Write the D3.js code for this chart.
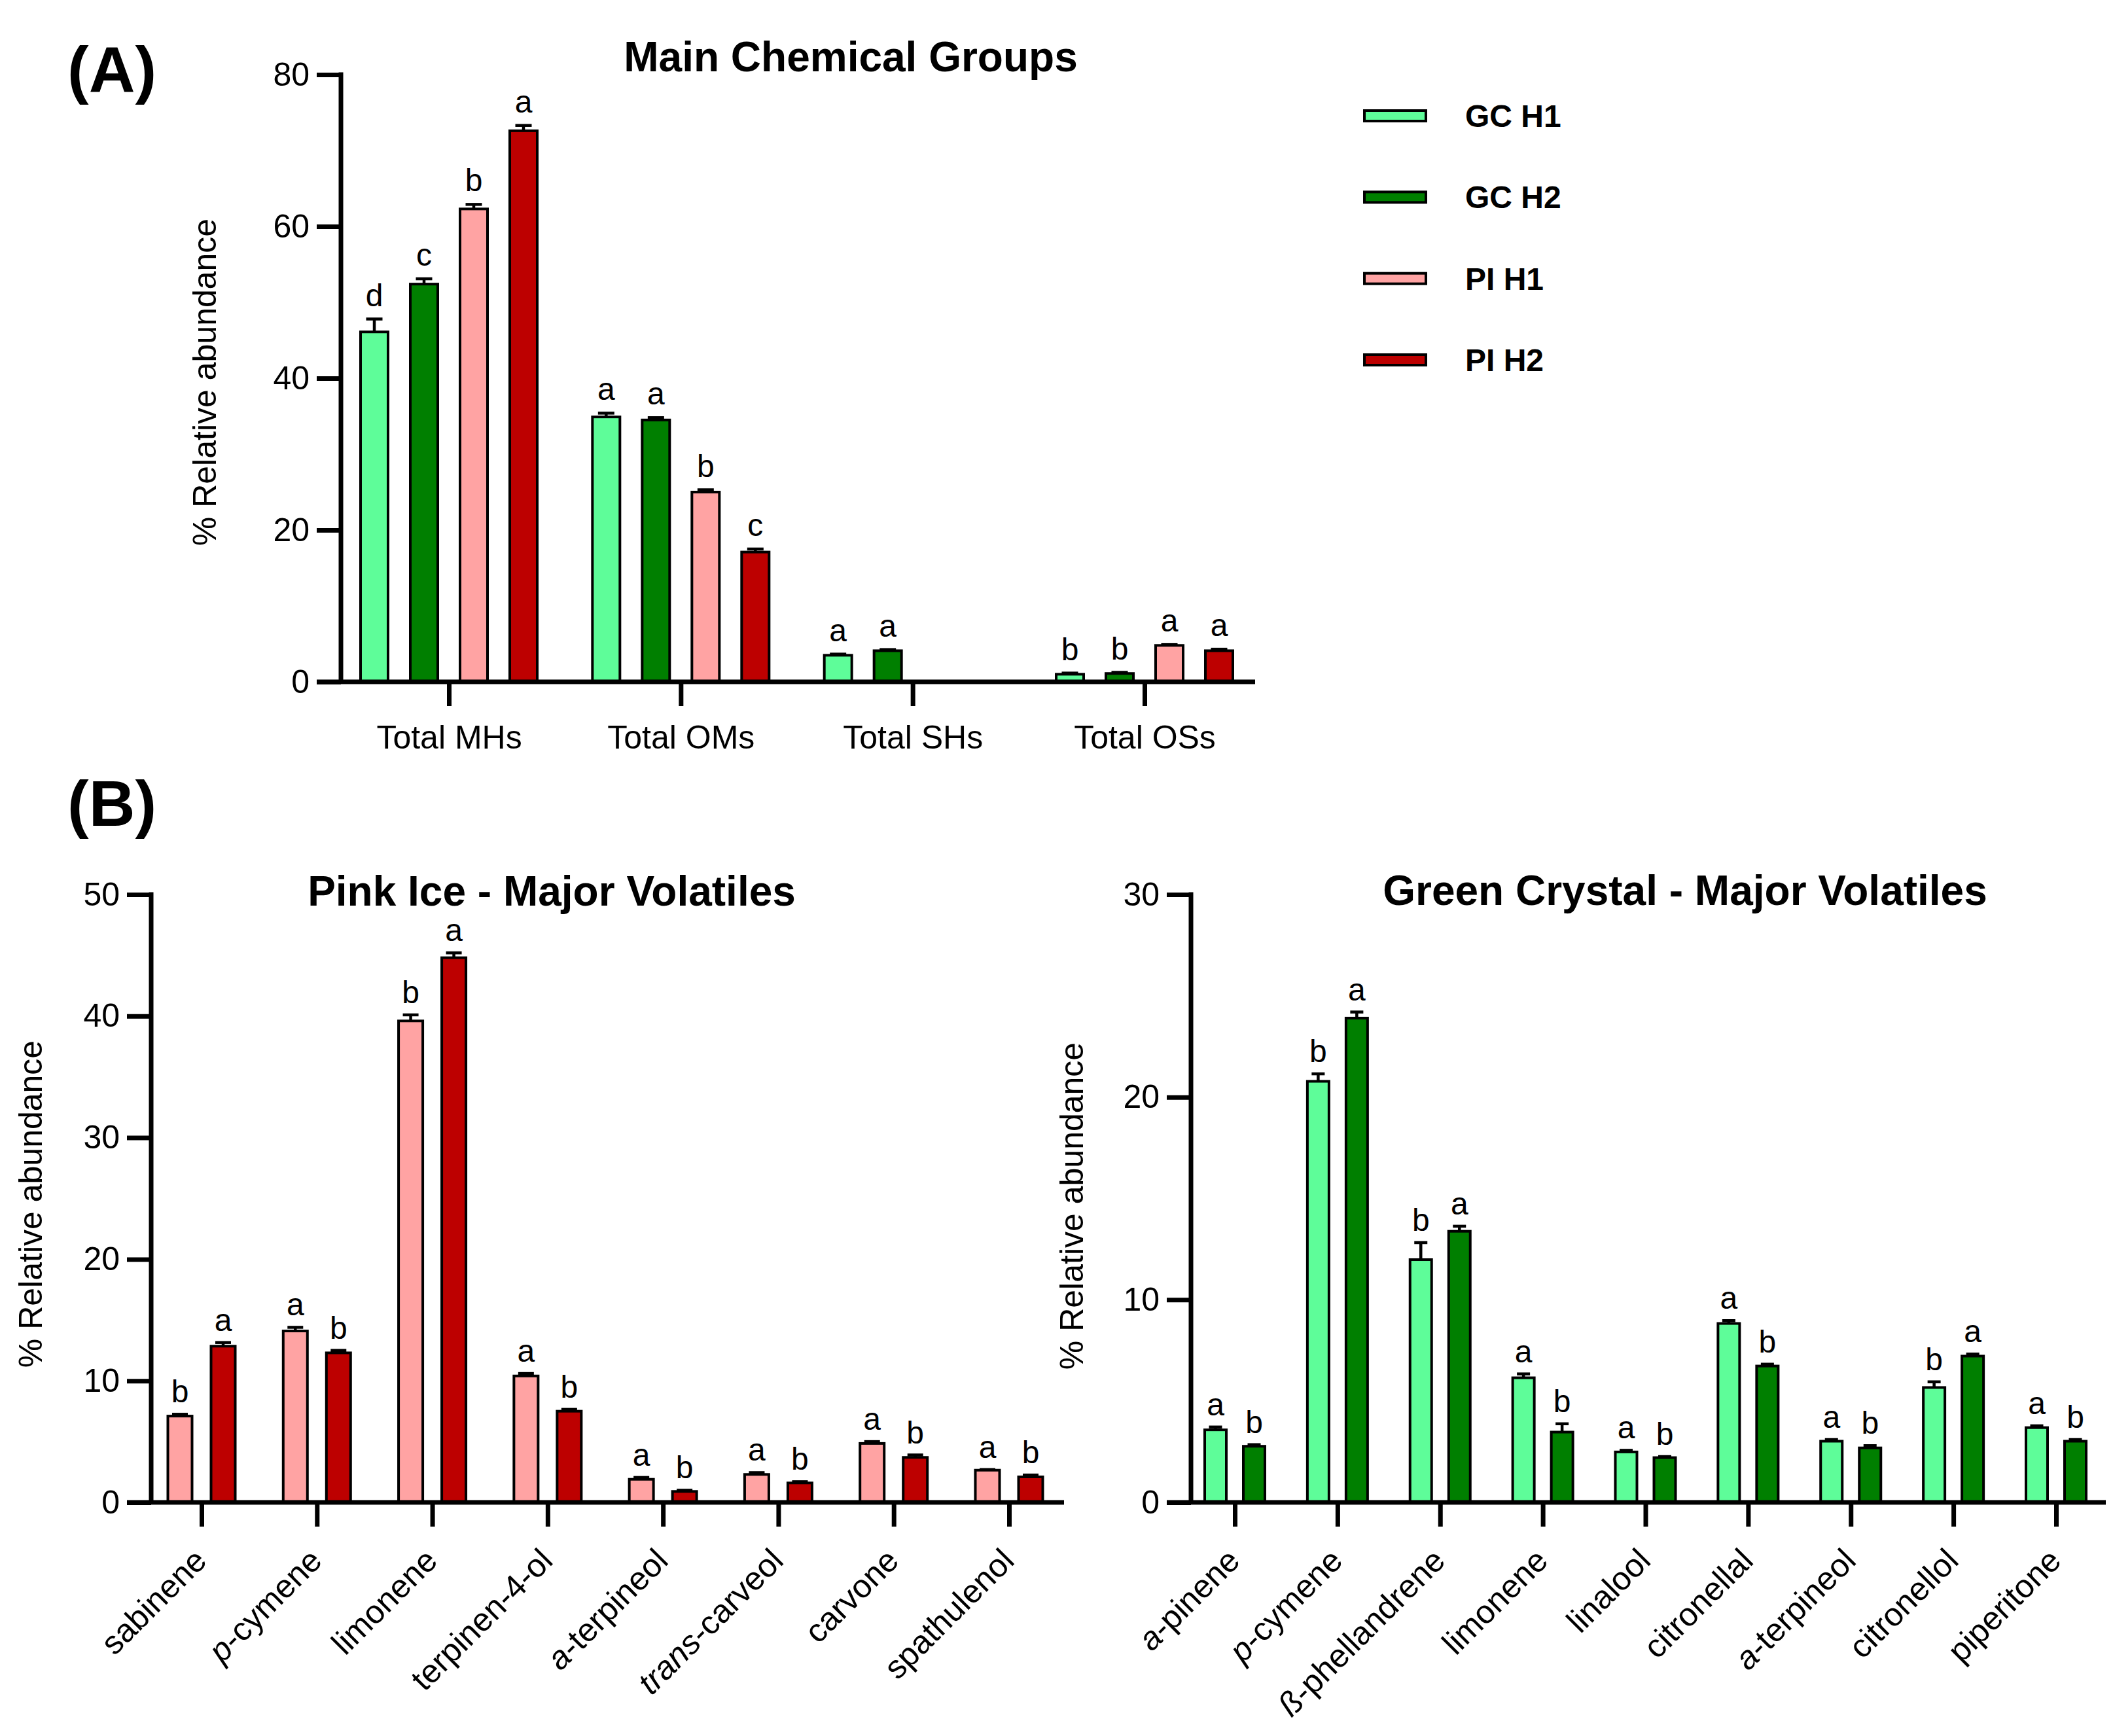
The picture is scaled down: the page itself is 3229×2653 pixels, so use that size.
<!DOCTYPE html>
<html>
<head>
<meta charset="utf-8">
<script src="https://cdn.jsdelivr.net/npm/d3@7/dist/d3.min.js"></script>
<style>
  body { margin: 0; background: #fff; }
  svg text { font-family: "Liberation Sans", Arial, Helvetica, sans-serif; fill: #000; }
</style>
</head>
<body>
<svg id="chart" width="3229" height="2653" xmlns="http://www.w3.org/2000/svg"></svg>
<script>
// ---------------- DATA ----------------
const seriesNames = ["GC H1", "GC H2", "PI H1", "PI H2"];
const seriesColors = ["#5EFD99", "#007F00", "#FFA3A3", "#BD0000"];

// (A) Main chemical groups
const groupCategories = ["Total MHs", "Total OMs", "Total SHs", "Total OSs"];
const groupGCH1 = [46.1, 34.9, 3.5, 1.0];
const groupGCH1Err = [1.7, 0.5, 0.15, 0.15];
const groupGCH1Letters = ["d", "a", "a", "b"];
const groupGCH2 = [52.4, 34.5, 4.1, 1.1];
const groupGCH2Err = [0.7, 0.3, 0.15, 0.15];
const groupGCH2Letters = ["c", "a", "a", "b"];
const groupPIH1 = [62.3, 25.0, null, 4.8];
const groupPIH1Err = [0.6, 0.3, null, 0.1];
const groupPIH1Letters = ["b", "b", null, "a"];
const groupPIH2 = [72.6, 17.1, null, 4.1];
const groupPIH2Err = [0.7, 0.4, null, 0.2];
const groupPIH2Letters = ["a", "c", null, "a"];
const groupYTicks = [0, 20, 40, 60, 80];

// (B) Pink Ice major volatiles
const piCategories = ["sabinene", "p-cymene", "limonene", "terpinen-4-ol", "a-terpineol", "trans-carveol", "carvone", "spathulenol"];
const piItalicPrefix = ["", "p", "", "", "a", "trans", "", ""];
const piH1 = [7.1, 14.1, 39.6, 10.4, 1.9, 2.3, 4.85, 2.65];
const piH1Err = [0.15, 0.3, 0.5, 0.2, 0.15, 0.15, 0.15, 0.05];
const piH1Letters = ["b", "a", "b", "a", "a", "a", "a", "a"];
const piH2 = [12.85, 12.3, 44.8, 7.5, 0.9, 1.6, 3.7, 2.1];
const piH2Err = [0.3, 0.2, 0.4, 0.15, 0.1, 0.1, 0.2, 0.15];
const piH2Letters = ["a", "b", "a", "b", "b", "b", "b", "b"];
const piYTicks = [0, 10, 20, 30, 40, 50];

// (B) Green Crystal major volatiles
const gcCategories = ["a-pinene", "p-cymene", "ß-phellandrene", "limonene", "linalool", "citronellal", "a-terpineol", "citronellol", "piperitone"];
const gcItalicPrefix = ["a", "p", "ß", "", "", "", "a", "", ""];
const gcH1 = [3.58, 20.78, 11.98, 6.15, 2.49, 8.83, 3.02, 5.67, 3.69];
const gcH1Err = [0.14, 0.37, 0.84, 0.19, 0.08, 0.14, 0.08, 0.28, 0.09];
const gcH1Letters = ["a", "b", "b", "a", "a", "a", "a", "b", "a"];
const gcH2 = [2.77, 23.9, 13.38, 3.47, 2.21, 6.73, 2.69, 7.22, 3.02];
const gcH2Err = [0.08, 0.3, 0.25, 0.41, 0.05, 0.09, 0.11, 0.1, 0.08];
const gcH2Letters = ["b", "a", "a", "b", "b", "b", "b", "a", "b"];
const gcYTicks = [0, 10, 20, 30];

// ---------------- DRAWING ----------------
const svg = d3.select("#chart");
const FONT = '"Liberation Sans", Arial, Helvetica, sans-serif';
const AXW = 7;      // axis stroke width
const TICK = 37;    // tick length

function drawPanel(cfg) {
  const y = d3.scaleLinear().domain([0, d3.max(cfg.yTicks)]).range([cfg.y0, cfg.yTop]);
  const x = d3.scalePoint().domain(cfg.cats).range([cfg.firstCat, cfg.lastCat]);
  const inner = d3.scaleBand().domain(cfg.series.map(s => s.name))
    .range([-cfg.innerHalf, cfg.innerHalf]).paddingInner(cfg.pad);
  const g = svg.append("g");
  const bw = inner.bandwidth();

  cfg.series.forEach(s => {
    const data = cfg.cats.map((c, i) => ({ c, v: s.values[i], e: s.errors[i], l: s.letters[i] }))
      .filter(d => d.v != null);
    const sg = g.append("g");
    // error bars (upper)
    sg.selectAll("line.err").data(data).join("line").attr("class", "err")
      .attr("x1", d => x(d.c) + inner(s.name) + bw / 2)
      .attr("x2", d => x(d.c) + inner(s.name) + bw / 2)
      .attr("y1", d => y(d.v)).attr("y2", d => y(d.v + d.e))
      .attr("stroke", "#000").attr("stroke-width", 4.5);
    sg.selectAll("line.cap").data(data).join("line").attr("class", "cap")
      .attr("x1", d => x(d.c) + inner(s.name) + bw / 2 - cfg.capW / 2)
      .attr("x2", d => x(d.c) + inner(s.name) + bw / 2 + cfg.capW / 2)
      .attr("y1", d => y(d.v + d.e)).attr("y2", d => y(d.v + d.e))
      .attr("stroke", "#000").attr("stroke-width", 4.5);
    // bars
    sg.selectAll("rect").data(data).join("rect")
      .attr("x", d => x(d.c) + inner(s.name))
      .attr("width", bw)
      .attr("y", d => y(d.v))
      .attr("height", d => y(0) - y(d.v))
      .attr("fill", s.color)
      .attr("stroke", "#000").attr("stroke-width", 4);
    // significance letters
    sg.selectAll("text.sig").data(data.filter(d => d.l)).join("text").attr("class", "sig")
      .attr("x", d => x(d.c) + inner(s.name) + bw / 2)
      .attr("y", d => y(d.v + d.e) - cfg.letterGap)
      .attr("text-anchor", "middle")
      .attr("font-size", 48)
      .text(d => d.l);
  });

  // Y axis
  const ya = g.append("g").attr("transform", `translate(${cfg.yAxisX},0)`)
    .call(d3.axisLeft(y).tickValues(cfg.yTicks).tickSize(TICK).tickPadding(11).tickFormat(d3.format("d")));
  ya.select(".domain").remove();
  ya.selectAll(".tick line").attr("stroke", "#000").attr("stroke-width", AXW);
  ya.selectAll(".tick text").attr("font-size", 50).attr("font-family", FONT).attr("fill", "#000");
  g.append("line")
    .attr("x1", cfg.yAxisX).attr("x2", cfg.yAxisX)
    .attr("y1", y(d3.max(cfg.yTicks)) - AXW / 2).attr("y2", y(0))
    .attr("stroke", "#000").attr("stroke-width", AXW);

  // X axis
  const xa = g.append("g").attr("transform", `translate(0,${y(0)})`)
    .call(d3.axisBottom(x).tickSize(TICK).tickPadding(cfg.rotate ? 0 : 29.5)
      .tickFormat(cfg.rotate ? () => "" : d => d));
  xa.select(".domain").remove();
  xa.selectAll(".tick line").attr("stroke", "#000").attr("stroke-width", AXW);
  xa.selectAll(".tick text").attr("font-size", 50).attr("font-family", FONT).attr("fill", "#000");
  g.append("line")
    .attr("x1", cfg.yAxisX - TICK).attr("x2", cfg.xEnd)
    .attr("y1", y(0)).attr("y2", y(0))
    .attr("stroke", "#000").attr("stroke-width", AXW);

  if (cfg.rotate) {
    xa.selectAll(".tick").each(function (d, i) {
      const t = d3.select(this).append("text")
        .attr("transform", "translate(10,92) rotate(-45)")
        .attr("text-anchor", "end")
        .attr("font-size", 50).attr("font-family", FONT).attr("fill", "#000");
      const pre = cfg.italic[i];
      if (pre) {
        t.append("tspan").attr("font-style", "italic").text(pre);
        t.append("tspan").text(d.slice(pre.length));
      } else {
        t.text(d);
      }
    });
  }

  // Y label
  g.append("text")
    .attr("transform", `translate(${cfg.yLabelX},${cfg.yLabelY}) rotate(-90)`)
    .attr("text-anchor", "middle").attr("font-size", 50)
    .text("% Relative abundance");

  // Title
  g.append("text")
    .attr("x", cfg.titleX).attr("y", cfg.titleY)
    .attr("text-anchor", "middle").attr("font-size", 64).attr("font-weight", "bold")
    .text(cfg.title);
}

// Panel A
drawPanel({
  cats: groupCategories,
  series: [
    { name: seriesNames[0], color: seriesColors[0], values: groupGCH1, errors: groupGCH1Err, letters: groupGCH1Letters },
    { name: seriesNames[1], color: seriesColors[1], values: groupGCH2, errors: groupGCH2Err, letters: groupGCH2Letters },
    { name: seriesNames[2], color: seriesColors[2], values: groupPIH1, errors: groupPIH1Err, letters: groupPIH1Letters },
    { name: seriesNames[3], color: seriesColors[3], values: groupPIH2, errors: groupPIH2Err, letters: groupPIH2Letters }
  ],
  yTicks: groupYTicks, y0: 1042, yTop: 114, yAxisX: 521,
  firstCat: 686, lastCat: 1749, innerHalf: 135, pad: 0.4474, capW: 25,
  xEnd: 1918, rotate: false, letterGap: 20,
  yLabelX: 330, yLabelY: 584, title: "Main Chemical Groups", titleX: 1300, titleY: 109
});

// Panel B left (Pink Ice)
drawPanel({
  cats: piCategories, italic: piItalicPrefix,
  series: [
    { name: seriesNames[2], color: seriesColors[2], values: piH1, errors: piH1Err, letters: piH1Letters },
    { name: seriesNames[3], color: seriesColors[3], values: piH2, errors: piH2Err, letters: piH2Letters }
  ],
  yTicks: piYTicks, y0: 2296, yTop: 1367, yAxisX: 231,
  firstCat: 308, lastCat: 1542, innerHalf: 51.5, pad: 0.4394, capW: 24,
  xEnd: 1626, rotate: true, letterGap: 18,
  yLabelX: 64, yLabelY: 1840, title: "Pink Ice - Major Volatiles", titleX: 843, titleY: 1384
});

// Panel B right (Green Crystal)
drawPanel({
  cats: gcCategories, italic: gcItalicPrefix,
  series: [
    { name: seriesNames[0], color: seriesColors[0], values: gcH1, errors: gcH1Err, letters: gcH1Letters },
    { name: seriesNames[1], color: seriesColors[1], values: gcH2, errors: gcH2Err, letters: gcH2Letters }
  ],
  yTicks: gcYTicks, y0: 2296, yTop: 1367, yAxisX: 1820,
  firstCat: 1887, lastCat: 3142, innerHalf: 46, pad: 0.4407, capW: 20,
  xEnd: 3218, rotate: true, letterGap: 18,
  yLabelX: 1655, yLabelY: 1843, title: "Green Crystal - Major Volatiles", titleX: 2575, titleY: 1383
});

// Legend
const legY = d3.scalePoint().domain(seriesNames).range([177, 550]);
const leg = svg.append("g");
leg.selectAll("rect").data(seriesNames).join("rect")
  .attr("x", 2085).attr("width", 94)
  .attr("y", d => legY(d) - 8).attr("height", 16)
  .attr("fill", (d, i) => seriesColors[i])
  .attr("stroke", "#000").attr("stroke-width", 4);
leg.selectAll("text").data(seriesNames).join("text")
  .attr("x", 2239).attr("y", d => legY(d) + 17)
  .attr("font-size", 48).attr("font-weight", "bold")
  .text(d => d);

// Panel labels
svg.append("text").attr("x", 103).attr("y", 140)
  .attr("font-size", 98).attr("font-weight", "bold").text("(A)");
svg.append("text").attr("x", 103).attr("y", 1262)
  .attr("font-size", 98).attr("font-weight", "bold").text("(B)");
</script>
</body>
</html>
